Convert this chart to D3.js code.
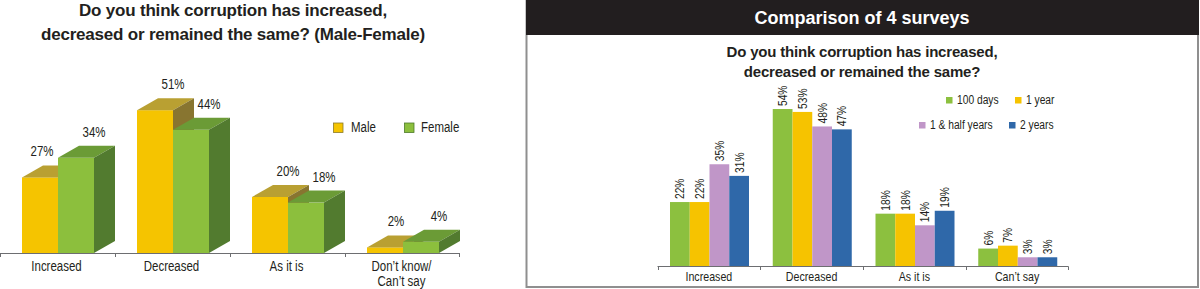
<!DOCTYPE html>
<html>
<head>
<meta charset="utf-8">
<script src="https://cdnjs.cloudflare.com/ajax/libs/d3/7.8.5/d3.min.js"></script>
<style>
  html, body { margin: 0; padding: 0; background: #fff; }
  svg { display: block; }
  .narrow { font-family: "Liberation Sans", Arial, sans-serif; fill: #231f20; }
  .ttl { font-family: "Liberation Sans", Arial, sans-serif; font-weight: bold; fill: #231f20; letter-spacing: -0.2px; }
</style>
</head>
<body>
<svg id="chart" width="1200" height="289"></svg>
<script>
(function() {

	// DATA - left chart (male / female)
	var leftCategories = [["Increased"], ["Decreased"], ["As it is"], ["Don\u2019t know/", "Can\u2019t say"]];
	var leftSeries = ["Male", "Female"];
	var maleValues = [27, 51, 20, 2];
	var femaleValues = [34, 44, 18, 4];

	// DATA - right chart (4 surveys)
	var rightCategories = ["Increased", "Decreased", "As it is", "Can\u2019t say"];
	var rightSeries = ["100 days", "1 year", "1 & half years", "2 years"];
	var days100Values = [22, 54, 18, 6];
	var year1Values = [22, 53, 18, 7];
	var yearHalfValues = [35, 48, 14, 3];
	var years2Values = [31, 47, 19, 3];

	var svg = d3.select('#chart');
	var SQUEEZE = 0.82; // no narrow font installed, so squeeze Liberation Sans

	// narrow text helper
	function narrowText(parent, x, y, size, txt, anchor, rot) {
		var tr = 'translate(' + x + ',' + y + ')' + (rot ? ' rotate(' + rot + ')' : '') + ' scale(' + SQUEEZE + ',1)';
		return parent.append('text').attr('class', 'narrow')
			.attr('transform', tr)
			.attr('text-anchor', anchor || 'start')
			.style('font-size', size + 'px')
			.text(txt);
	}

	// ---------- LEFT CHART ----------
	var leftColors = {
		Male:   { front: "#f5c400", top: "#b9a032", side: "#887530", stroke: "#8a7a2a" },
		Female: { front: "#8cbf3d", top: "#6b9b36", side: "#527b2f", stroke: "#4d7a2a" }
	};
	var depth = { dx: 21, dy: 12 };

	var lx = d3.scaleBand().domain(d3.range(leftCategories.length)).range([0, 460]);
	var lxInner = d3.scaleBand().domain(leftSeries).range([22, 94]);
	var ly = d3.scaleLinear().domain([0, 55]).range([253, 253 - 55 * 2.8]);

	var left = svg.append('g').attr('class', 'left');

	left.append('text').attr('class', 'ttl').attr('x', 233).attr('y', 15.5)
		.attr('text-anchor', 'middle').style('font-size', '17px')
		.text('Do you think corruption has increased,');
	left.append('text').attr('class', 'ttl').attr('x', 233).attr('y', 39.5)
		.attr('text-anchor', 'middle').style('font-size', '17px')
		.text('decreased or remained the same? (Male-Female)');

	var leftData = leftSeries.map(function(s, j) {
		var vals = j === 0 ? maleValues : femaleValues;
		return vals.map(function(v, i) { return { series: s, cat: i, value: v }; });
	});

	function barGeom(d) {
		var x0 = lx(d.cat) + lxInner(d.series);
		var w = lxInner.bandwidth();
		return { x0: x0, w: w, y0: ly(d.value), base: ly(0) };
	}

	leftData.forEach(function(rows) {
		var g = left.append('g');
		rows.forEach(function(d) {
			var b = barGeom(d);
			var c = leftColors[d.series];
			g.append('rect').attr('x', b.x0).attr('y', b.y0)
				.attr('width', b.w).attr('height', b.base - b.y0).attr('fill', c.front);
			g.append('path').attr('fill', c.top)
				.attr('d', 'M' + b.x0 + ',' + b.y0 + 'L' + (b.x0 + depth.dx) + ',' + (b.y0 - depth.dy) +
					'L' + (b.x0 + b.w + depth.dx) + ',' + (b.y0 - depth.dy) + 'L' + (b.x0 + b.w) + ',' + b.y0 + 'Z');
			g.append('path').attr('fill', c.side)
				.attr('d', 'M' + (b.x0 + b.w) + ',' + b.y0 + 'L' + (b.x0 + b.w + depth.dx) + ',' + (b.y0 - depth.dy) +
					'L' + (b.x0 + b.w + depth.dx) + ',' + (b.base - depth.dy) + 'L' + (b.x0 + b.w) + ',' + b.base + 'Z');
		});
	});

	// value labels (shift left when the next bar would cover it)
	leftData.forEach(function(rows, j) {
		rows.forEach(function(d, i) {
			var b = barGeom(d);
			var baseline = b.y0 - depth.dy - 9;
			var shift = 18;
			if (j === 0) {
				var other = ly(femaleValues[i]) - depth.dy;
				if (baseline > other) shift = 2;
				else if (baseline > other - 12) shift = 11;
			}
			narrowText(left, b.x0 + b.w / 2 + shift, baseline, 14, d.value + '%', 'middle');
		});
	});

	// axis
	var lAxis = left.append('g').attr('stroke', '#6d6e71').attr('stroke-width', 1);
	lAxis.append('line').attr('x1', 0).attr('x2', 460).attr('y1', 253.5).attr('y2', 253.5);
	d3.range(leftCategories.length + 1).forEach(function(i) {
		var x = i < leftCategories.length ? lx(i) : 460;
		x = Math.max(0.5, Math.min(459.5, x + 0.5));
		lAxis.append('line').attr('x1', x).attr('x2', x).attr('y1', 253.5).attr('y2', 257);
	});
	leftCategories.forEach(function(lines, i) {
		lines.forEach(function(line, k) {
			narrowText(left, lx(i) + lx.bandwidth() / 2 - 1, 270.5 + k * 15.5, 14, line, 'middle');
		});
	});

	// legend
	leftSeries.forEach(function(s, j) {
		var lg = left.append('g').attr('transform', 'translate(' + [333 + j * 71, 122.5] + ')');
		lg.append('rect').attr('x', 0.5).attr('y', 0.5).attr('width', 9.5).attr('height', 9.5)
			.attr('fill', leftColors[s].front).attr('stroke', leftColors[s].stroke).attr('stroke-width', 0.8);
		narrowText(lg, j === 0 ? 18 : 17, 9.5, 14, s);
	});

	// ---------- RIGHT CHART ----------
	var rightColors = ["#8cc03f", "#f6c300", "#c096c8", "#2f68a9"];
	var rightValues = [days100Values, year1Values, yearHalfValues, years2Values];

	var right = svg.append('g').attr('class', 'right');

	right.append('rect').attr('x', 526.5).attr('y', -2).attr('width', 671.5).attr('height', 289)
		.attr('fill', 'none').attr('stroke', '#8f8f8f').attr('stroke-width', 2);
	right.append('rect').attr('x', 526).attr('y', 0).attr('width', 673).attr('height', 35)
		.attr('fill', '#221e1f');
	right.append('text').attr('x', 862).attr('y', 23.5).attr('text-anchor', 'middle')
		.style('font-family', '"Liberation Sans", Arial, sans-serif').style('font-weight', 'bold')
		.style('font-size', '18px').style('fill', '#fff')
		.text('Comparison of 4 surveys');

	right.append('text').attr('class', 'ttl').attr('x', 862).attr('y', 57)
		.attr('text-anchor', 'middle').style('font-size', '15px')
		.text('Do you think corruption has increased,');
	right.append('text').attr('class', 'ttl').attr('x', 862).attr('y', 77)
		.attr('text-anchor', 'middle').style('font-size', '15px')
		.text('decreased or remained the same?');

	var rx = d3.scaleBand().domain(rightCategories).range([657.5, 1068.5]);
	var rxInner = d3.scaleBand().domain(rightSeries).range([12.5, 91.5]);
	var ry = d3.scaleLinear().domain([0, 60]).range([266, 266 - 60 * 2.907]);

	rightSeries.forEach(function(s, j) {
		var g = right.append('g').attr('fill', rightColors[j]);
		rightValues[j].forEach(function(v, i) {
			var x = rx(rightCategories[i]) + rxInner(s);
			g.append('rect').attr('x', x).attr('y', ry(v))
				.attr('width', rxInner.bandwidth()).attr('height', ry(0) - ry(v));
			narrowText(right, x + rxInner.bandwidth() / 2 + 4.5, ry(v) - 3, 12.5, v + '%', 'start', -90);
		});
	});

	// x axis
	var rAxis = right.append('g').attr('stroke', '#6d6e71');
	rAxis.append('line').attr('x1', 657.5).attr('x2', 1068.5).attr('y1', 266.5).attr('y2', 266.5);
	rightCategories.concat([null]).forEach(function(c) {
		var x = c === null ? 1068 : rx(c);
		x = Math.round(x) + 0.5;
		rAxis.append('line').attr('x1', x).attr('x2', x).attr('y1', 266.5).attr('y2', 270);
	});
	rightCategories.forEach(function(c) {
		narrowText(right, rx(c) + rx.bandwidth() / 2, 280.5, 13, c, 'middle');
	});

	// legend
	var legendPos = [[946, 97], [1015, 97], [919, 122], [1009, 122]];
	rightSeries.forEach(function(s, j) {
		var lg = right.append('g').attr('transform', 'translate(' + legendPos[j] + ')');
		lg.append('rect').attr('width', 6.5).attr('height', 6.5).attr('fill', rightColors[j]);
		narrowText(lg, 11, 7, 12.5, s);
	});

})();
</script>
</body>
</html>
